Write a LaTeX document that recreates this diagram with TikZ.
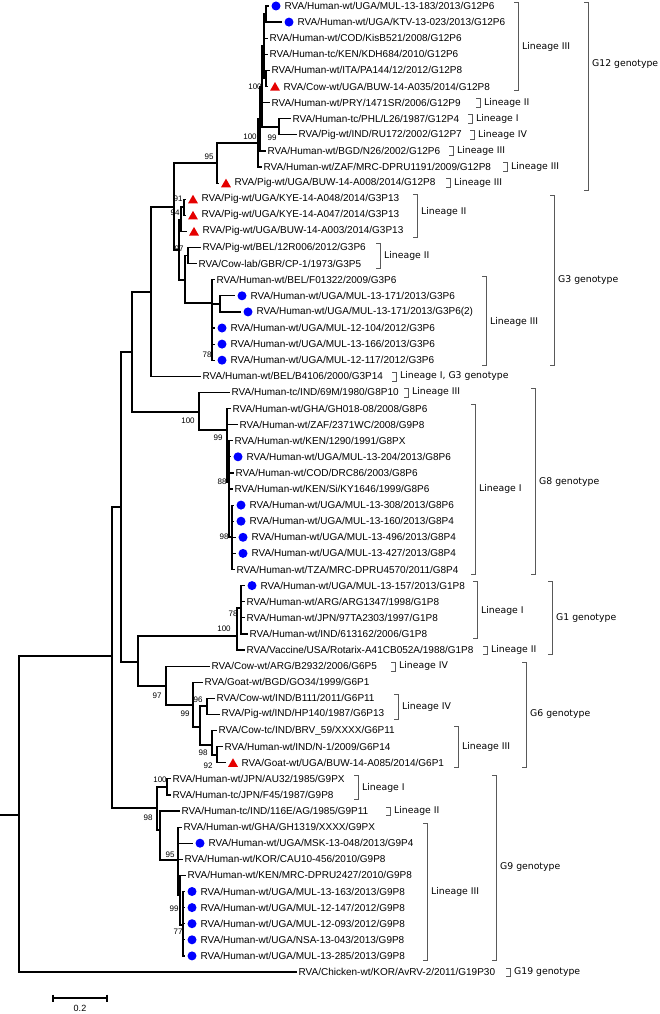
\documentclass[tikz,border=0pt]{standalone}
\usepackage{fontspec}
\setmainfont{Liberation Sans}
\newfontfamily\labfont{DejaVu Sans}
\usetikzlibrary{shapes.geometric,calc}
\tikzset{
  % tree branches
  br/.style={line width=1.2pt},
  % leaf names
  leaf/.style={anchor=west, inner sep=1.5pt, font=\fontsize{10}{12}\selectfont},
  % Ugandan human strain: blue dot, animal strain: red triangle
  hmark/.style={circle, fill=blue, minimum size=9pt, inner sep=0pt},
  amark/.style={regular polygon, regular polygon sides=3, fill=red!90!black,
                minimum size=11.5pt, inner sep=0pt, yshift=-1.3pt},
  % bootstrap values
  bs/.style={font=\fontsize{8}{9}\selectfont, inner sep=0pt},
  % lineage / genotype brackets
  brk/.style={draw=black!65, line width=0.8pt},
  lab/.style={anchor=west, inner sep=0pt, font=\labfont\fontsize{9.3}{11}\selectfont}
}
\begin{document}
\begin{tikzpicture}[x=1pt, y=-1pt]
\useasboundingbox (0,0) rectangle (660,1014);

% ============== internal nodes ==============
\coordinate (root) at (0,815);
\coordinate (nZ) at (19,815);
\coordinate (nX) at (112,656);
\coordinate (nY) at (121,507);
\coordinate (nJ) at (132,352);
\coordinate (nI) at (151,292);
\coordinate (g3g12) at (174,207);
% G12
\coordinate (g12) at (217,163);
\coordinate (g12b) at (258,143);
\coordinate (g12a) at (260,119);
\coordinate (g12c) at (262,87);
\coordinate (g12d) at (264,46);
\coordinate (g12x1) at (266,14);
\coordinate (g12x5) at (266,78.5);
\coordinate (g12p) at (279,127);
% G3
\coordinate (g3) at (179,250);
\coordinate (g3p94) at (181,220);
\coordinate (g3p91) at (184,207);
\coordinate (g3f) at (185,280);
\coordinate (g3eu) at (188,255.5);
\coordinate (g3h) at (212,303);
\coordinate (g3u) at (220,304);
% G8
\coordinate (g8) at (199,412);
\coordinate (g8l) at (227,430);
\coordinate (g8m) at (229,482);
\coordinate (g8n) at (232,537);
% G1 / G6
\coordinate (g1g6) at (138,662);
\coordinate (g1) at (237,636);
\coordinate (g1p) at (241,608);
\coordinate (g6) at (166,686);
\coordinate (g6s) at (193,705);
\coordinate (g6t) at (200,727);
\coordinate (g6u) at (207,706);
\coordinate (g6v) at (212,745);
\coordinate (g6w) at (217,755);
% G9
\coordinate (g9) at (157,808);
\coordinate (g9j) at (167,787);
\coordinate (g9c) at (160,830);
\coordinate (g9d) at (178,860);
\coordinate (g9e) at (180,895);
\coordinate (g9u) at (183,925);

% ============== leaves ==============
\foreach \i/\tx/\t in {
  3/268/{RVA/Human-wt/COD/KisB521/2008/G12P6},
  4/268/{RVA/Human-tc/KEN/KDH684/2010/G12P6},
  5/270/{RVA/Human-wt/ITA/PA144/12/2012/G12P8},
  7/270/{RVA/Human-wt/PRY/1471SR/2006/G12P9},
  8/291/{RVA/Human-tc/PHL/L26/1987/G12P4},
  9/297/{RVA/Pig-wt/IND/RU172/2002/G12P7},
  10/266/{RVA/Human-wt/BGD/N26/2002/G12P6},
  11/262/{RVA/Human-wt/ZAF/MRC-DPRU1191/2009/G12P8},
  16/201/{RVA/Pig-wt/BEL/12R006/2012/G3P6},
  17/197/{RVA/Cow-lab/GBR/CP-1/1973/G3P5},
  18/215/{RVA/Human-wt/BEL/F01322/2009/G3P6},
  24/201/{RVA/Human-wt/BEL/B4106/2000/G3P14},
  25/230/{RVA/Human-tc/IND/69M/1980/G8P10},
  26/231/{RVA/Human-wt/GHA/GH018-08/2008/G8P6},
  27/238/{RVA/Human-wt/ZAF/2371WC/2008/G9P8},
  28/233/{RVA/Human-wt/KEN/1290/1991/G8PX},
  30/234/{RVA/Human-wt/COD/DRC86/2003/G8P6},
  31/233/{RVA/Human-wt/KEN/Si/KY1646/1999/G8P6},
  36/235/{RVA/Human-wt/TZA/MRC-DPRU4570/2011/G8P4},
  38/245/{RVA/Human-wt/ARG/ARG1347/1998/G1P8},
  39/245/{RVA/Human-wt/JPN/97TA2303/1997/G1P8},
  40/248/{RVA/Human-wt/IND/613162/2006/G1P8},
  41/245/{RVA/Vaccine/USA/Rotarix-A41CB052A/1988/G1P8},
  42/210/{RVA/Cow-wt/ARG/B2932/2006/G6P5},
  43/203/{RVA/Goat-wt/BGD/GO34/1999/G6P1},
  44/215/{RVA/Cow-wt/IND/B111/2011/G6P11},
  45/220/{RVA/Pig-wt/IND/HP140/1987/G6P13},
  46/217/{RVA/Cow-tc/IND/BRV\_59/XXXX/G6P11},
  47/223/{RVA/Human-wt/IND/N-1/2009/G6P14},
  49/171/{RVA/Human-wt/JPN/AU32/1985/G9PX},
  50/171/{RVA/Human-tc/JPN/F45/1987/G9P8},
  51/180/{RVA/Human-tc/IND/116E/AG/1985/G9P11},
  52/182/{RVA/Human-wt/GHA/GH1319/XXXX/G9PX},
  54/183/{RVA/Human-wt/KOR/CAU10-456/2010/G9P8},
  55/186/{RVA/Human-wt/KEN/MRC-DPRU2427/2010/G9P8},
  61/297/{RVA/Chicken-wt/KOR/AvRV-2/2011/G19P30}}{
  \coordinate (l\i) at (\tx,{6+(\i-1)*16.1});
  \node[leaf] (t\i) at (l\i) {\t};
}

% Ugandan human strains
\foreach \i/\tx/\t in {
  1/269/{RVA/Human-wt/UGA/MUL-13-183/2013/G12P6},
  2/282/{RVA/Human-wt/UGA/KTV-13-023/2013/G12P6},
  19/235/{RVA/Human-wt/UGA/MUL-13-171/2013/G3P6},
  20/241/{RVA/Human-wt/UGA/MUL-13-171/2013/G3P6(2)},
  21/215/{RVA/Human-wt/UGA/MUL-12-104/2012/G3P6},
  22/215/{RVA/Human-wt/UGA/MUL-13-166/2013/G3P6},
  23/215/{RVA/Human-wt/UGA/MUL-12-117/2012/G3P6},
  29/231/{RVA/Human-wt/UGA/MUL-13-204/2013/G8P6},
  32/234/{RVA/Human-wt/UGA/MUL-13-308/2013/G8P6},
  33/234/{RVA/Human-wt/UGA/MUL-13-160/2013/G8P4},
  34/236/{RVA/Human-wt/UGA/MUL-13-496/2013/G8P4},
  35/236/{RVA/Human-wt/UGA/MUL-13-427/2013/G8P4},
  37/245/{RVA/Human-wt/UGA/MUL-13-157/2013/G1P8},
  53/193/{RVA/Human-wt/UGA/MSK-13-048/2013/G9P4},
  56/185/{RVA/Human-wt/UGA/MUL-13-163/2013/G9P8},
  57/185/{RVA/Human-wt/UGA/MUL-12-147/2012/G9P8},
  58/185/{RVA/Human-wt/UGA/MUL-12-093/2012/G9P8},
  59/185/{RVA/Human-wt/UGA/NSA-13-043/2013/G9P8},
  60/185/{RVA/Human-wt/UGA/MUL-13-285/2013/G9P8}}{
  \coordinate (l\i) at (\tx,{6+(\i-1)*16.1});
  \node[hmark, xshift=7pt] (m\i) at (l\i) {};
  \node[leaf, xshift=14pt] (t\i) at (l\i) {\t};
}

% Ugandan animal strains
\foreach \i/\tx/\t in {
  6/268/{RVA/Cow-wt/UGA/BUW-14-A035/2014/G12P8},
  12/219/{RVA/Pig-wt/UGA/BUW-14-A008/2014/G12P8},
  13/186/{RVA/Pig-wt/UGA/KYE-14-A048/2014/G3P13},
  14/186/{RVA/Pig-wt/UGA/KYE-14-A047/2014/G3P13},
  15/187/{RVA/Pig-wt/UGA/BUW-14-A003/2014/G3P13},
  48/226/{RVA/Goat-wt/UGA/BUW-14-A085/2014/G6P1}}{
  \coordinate (l\i) at (\tx,{6+(\i-1)*16.1});
  \node[amark, xshift=7pt] (m\i) at (l\i) {};
  \node[leaf, xshift=14pt] (t\i) at (l\i) {\t};
}

% ============== branches ==============
\draw[br] (root) -- (nZ);
\foreach \p/\c in {
  nZ/nX, nZ/l61, nX/nY, nX/g9, nY/nJ, nY/g1g6, nJ/nI, nJ/g8,
  nI/g3g12, nI/l24, g3g12/g12, g3g12/g3,
  g12/g12b, g12/l12, g12b/g12a, g12b/l11, g12a/g12c, g12a/l10,
  g12c/g12d, g12c/l7, g12c/g12p, g12d/g12x1, g12d/l3, g12d/l4, g12d/g12x5,
  g12x1/l1, g12x1/l2, g12x5/l5, g12x5/l6, g12p/l8, g12p/l9,
  g3/g3p94, g3/g3f, g3p94/g3p91, g3p94/l15, g3p91/l13, g3p91/l14,
  g3f/g3eu, g3f/g3h, g3eu/l16, g3eu/l17,
  g3h/l18, g3h/g3u, g3h/l21, g3h/l22, g3h/l23, g3u/l19, g3u/l20,
  g8/l25, g8/g8l, g8l/l26, g8l/l27, g8l/g8m,
  g8m/l28, g8m/l29, g8m/l30, g8m/l31, g8m/g8n,
  g8n/l32, g8n/l33, g8n/l34, g8n/l35, g8n/l36,
  g1g6/g1, g1g6/g6, g1/g1p, g1/l41, g1p/l37, g1p/l38, g1p/l39, g1p/l40,
  g6/l42, g6/g6s, g6s/l43, g6s/g6t, g6t/g6u, g6t/g6v,
  g6u/l44, g6u/l45, g6v/l46, g6v/g6w, g6w/l47, g6w/l48,
  g9/g9j, g9/g9c, g9j/l49, g9j/l50, g9c/l51, g9c/g9d,
  g9d/l52, g9d/l53, g9d/l54, g9d/g9e, g9e/l55, g9e/g9u,
  g9u/l56, g9u/l57, g9u/l58, g9u/l59, g9u/l60}
  \draw[br] (\p) |- (\c);

% ============== bootstrap values ==============
\foreach \x/\y/\v [count=\k] in {
  255/87/100, 272/138/99, 250/137/100, 209/157/95,
  178/199/91, 175/213/94, 179/249/97, 207/355/78,
  188/421/100, 218/438/99, 222/482/88, 224/537/98,
  233/614/78, 224/629/100, 157/696/97, 198/700/96,
  185/714/99, 203/753/98, 208/766/92, 160/780/100,
  148/818/98, 170/855/95, 174/909/99, 178/932/77}
  \node[bs] (bs\k) at (\x,\y) {\v};

% ============== lineage and genotype brackets ==============
\foreach \bx/\ta/\tb/\ly/\t [count=\k] in {
  518/2/90/47/{Lineage III}, 480/98/107/102.6/{Lineage II},
  472/114/123/118.7/{Lineage I}, 474/130/139/134.8/{Lineage IV},
  453/146/155/150.9/{Lineage III}, 507/162/171/167/{Lineage III},
  450/178/187/183.1/{Lineage III}, 588/2/190/64/{G12 genotype},
  417/194/237/212/{Lineage II}, 380/243/268/256/{Lineage II},
  486/276/365/322/{Lineage III}, 554/195/365/280/{G3 genotype},
  396/372/381/376.3/{Lineage I, G3 genotype}, 408/388/397/392.4/{Lineage III},
  475/404/574/489/{Lineage I}, 535/388/574/482/{G8 genotype},
  477/581/638/611/{Lineage I}, 487/646/654/650/{Lineage II},
  552/581/654/618/{G1 genotype}, 395/662/671/666.1/{Lineage IV},
  398/694/719/707/{Lineage IV}, 458/726/767/747/{Lineage III},
  526/662/767/714/{G6 genotype}, 358/775/799/788/{Lineage I},
  390/807/815/811/{Lineage II}, 427/823/960/892/{Lineage III},
  496/775/960/867/{G9 genotype}, 510/968/976/972/{G19 genotype}}{
  \draw[brk] (\bx-4,\ta) -- (\bx,\ta) -- (\bx,\tb) -- (\bx-4,\tb);
  \node[lab] (g\k) at (\bx+4,\ly) {\t};
}

% ============== scale bar ==============
\coordinate (sb0) at (53,998);
\coordinate (sb1) at (107,998);
\draw[br] (sb0) -- (sb1);
\draw[br] ($(sb0)+(0,-3.5)$) -- ($(sb0)+(0,3.5)$);
\draw[br] ($(sb1)+(0,-3.5)$) -- ($(sb1)+(0,3.5)$);
\node[bs, font=\fontsize{9}{10}\selectfont] (sblab) at ($(sb0)!0.5!(sb1)+(0,10)$) {0.2};

\end{tikzpicture}
\end{document}
